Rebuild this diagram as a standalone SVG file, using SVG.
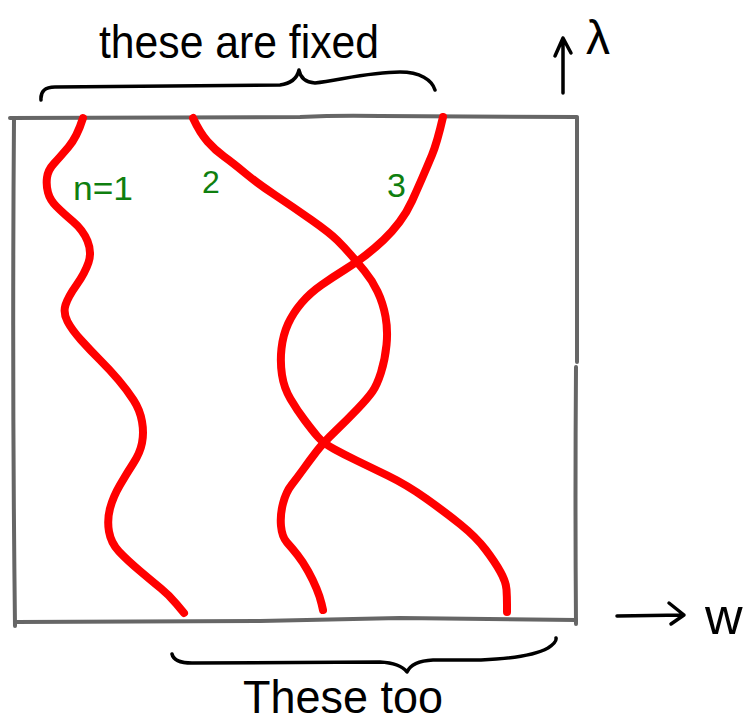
<svg xmlns="http://www.w3.org/2000/svg" width="754" height="725" viewBox="0 0 754 725">
<style>
.box{fill:none;stroke:#666;stroke-width:4;stroke-linecap:round;stroke-linejoin:round}
.ink{fill:none;stroke:#000;stroke-width:3.5;stroke-linecap:round;stroke-linejoin:round}
.band{fill:none;stroke:#ff0000;stroke-width:8;stroke-linecap:round;stroke-linejoin:round}
.hand{font-family:"Liberation Sans","DejaVu Sans",sans-serif;fill:#000}
.lab{font-family:"Liberation Sans","DejaVu Sans",sans-serif;fill:#0f7f0f}
</style>
<rect width="754" height="725" fill="#fff"/>
<g id="frame">
<path class="box" d="M10,118 L300,117 Q340,115 380,116 L577,117"/>
<path class="box" d="M14,119 Q12,380 15,626"/>
<path class="box" d="M577,118 L577,362 M576,367 Q575,500 576,624"/>
<path class="box" d="M16,622 L260,621 Q320,620 400,618 L576,620"/>
</g>
<g id="connectors">
<path id="band1" class="band" d="M83,118 Q77,137 68.5,147 Q60,157 54,163.5 Q48,170 47,177.5 Q46,185 48,192.5 Q50,200 56.5,206.5 Q63,213 73,221.5 Q83,230 87.5,241 Q92,252 88.5,262.5 Q85,273 76.5,285 Q68,297 65.5,305 Q63,313 67.5,321.5 Q72,330 81,340 Q90,350 100,360 Q110,370 118.5,380 Q127,390 133.5,400 Q140,410 142,421.5 Q144,433 142,443 Q140,453 133.5,463 Q127,473 120,485 Q113,497 110,508.5 Q107,520 109,531.5 Q111,543 119,551.5 Q127,560 140,571 Q153,582 161,588.5 Q169,595 176.5,604 L184,613"/>
<path id="band2" class="band" d="M193,118 Q200,133 207.5,141.5 Q215,150 224,156.5 Q233,163 245,173 Q257,183 275,195 Q293,207 311.5,220 Q330,233 337.5,240.5 Q345,248 351,255 Q357,262 364.5,271 Q372,280 377.5,291.5 Q383,303 385.5,316.5 Q388,330 386.5,345 Q385,360 381,372.5 Q377,385 372.5,391.5 Q368,398 357.5,409 Q347,420 335,431.5 Q323,443 316.5,451.5 Q310,460 303.5,469 Q297,478 291.5,485 Q286,492 283,503.5 Q280,515 281,526 Q282,537 287,542.5 Q292,548 297.5,555 Q303,562 308,571 Q313,580 316.5,588.5 Q320,597 321.5,603.5 L323,610"/>
<path id="band3" class="band" d="M443,117 Q437,143 432,155 Q427,167 422,178.5 Q417,190 412,201 Q407,212 399.5,222 Q392,232 383.5,240 Q375,248 366,255 Q357,262 345,269.5 Q333,277 321.5,285 Q310,293 301.5,303 Q293,313 288,324 Q283,335 281.5,348.5 Q280,362 282,375 Q284,388 290.5,399 Q297,410 304.5,420 Q312,430 317.5,436.5 Q323,443 334,449 Q345,455 356.5,460.5 Q368,466 387.5,475.5 Q407,485 426,498.5 Q445,512 460.5,524.5 Q476,537 485.5,549.5 Q495,562 500.5,572 Q506,582 506.5,589.5 Q507,597 507,604.5 L507,612"/>
<path id="axis-lambda" class="ink" d="M563,93 L563,38 M555,56 L563,38 L571,53"/>
<path id="axis-omega" class="ink" d="M617,616 L684,615 M669,603 L684,615 L671,624"/>
<path id="brace-top" class="ink" d="M41,100 Q40,87 55,87 L280,85 Q296,83 299,70 Q301,82 315,83 C340,80 370,72 400,72 C420,72 432,80 435,90"/>
<path id="brace-bottom" class="ink" d="M172,654 Q174,663 192,663 L380,662 Q400,663 407,672 Q412,661 433,660 L481,660 Q530,658 548,648 Q557,642 556,638"/>
</g>
<g id="labels">
<text class="hand" x="99" y="58" font-size="46" textLength="280" lengthAdjust="spacingAndGlyphs">these are fixed</text>
<text class="hand" x="243" y="713" font-size="46" textLength="200" lengthAdjust="spacingAndGlyphs">These too</text>
<text class="hand" x="586" y="54" font-size="48">λ</text>
<text class="hand" x="705" y="634" font-size="52">w</text>
<text class="lab" x="73" y="200" font-size="34" textLength="60" lengthAdjust="spacingAndGlyphs">n=1</text>
<text class="lab" x="202" y="193" font-size="32">2</text>
<text class="lab" x="387" y="197" font-size="34">3</text>
</g>
</svg>
